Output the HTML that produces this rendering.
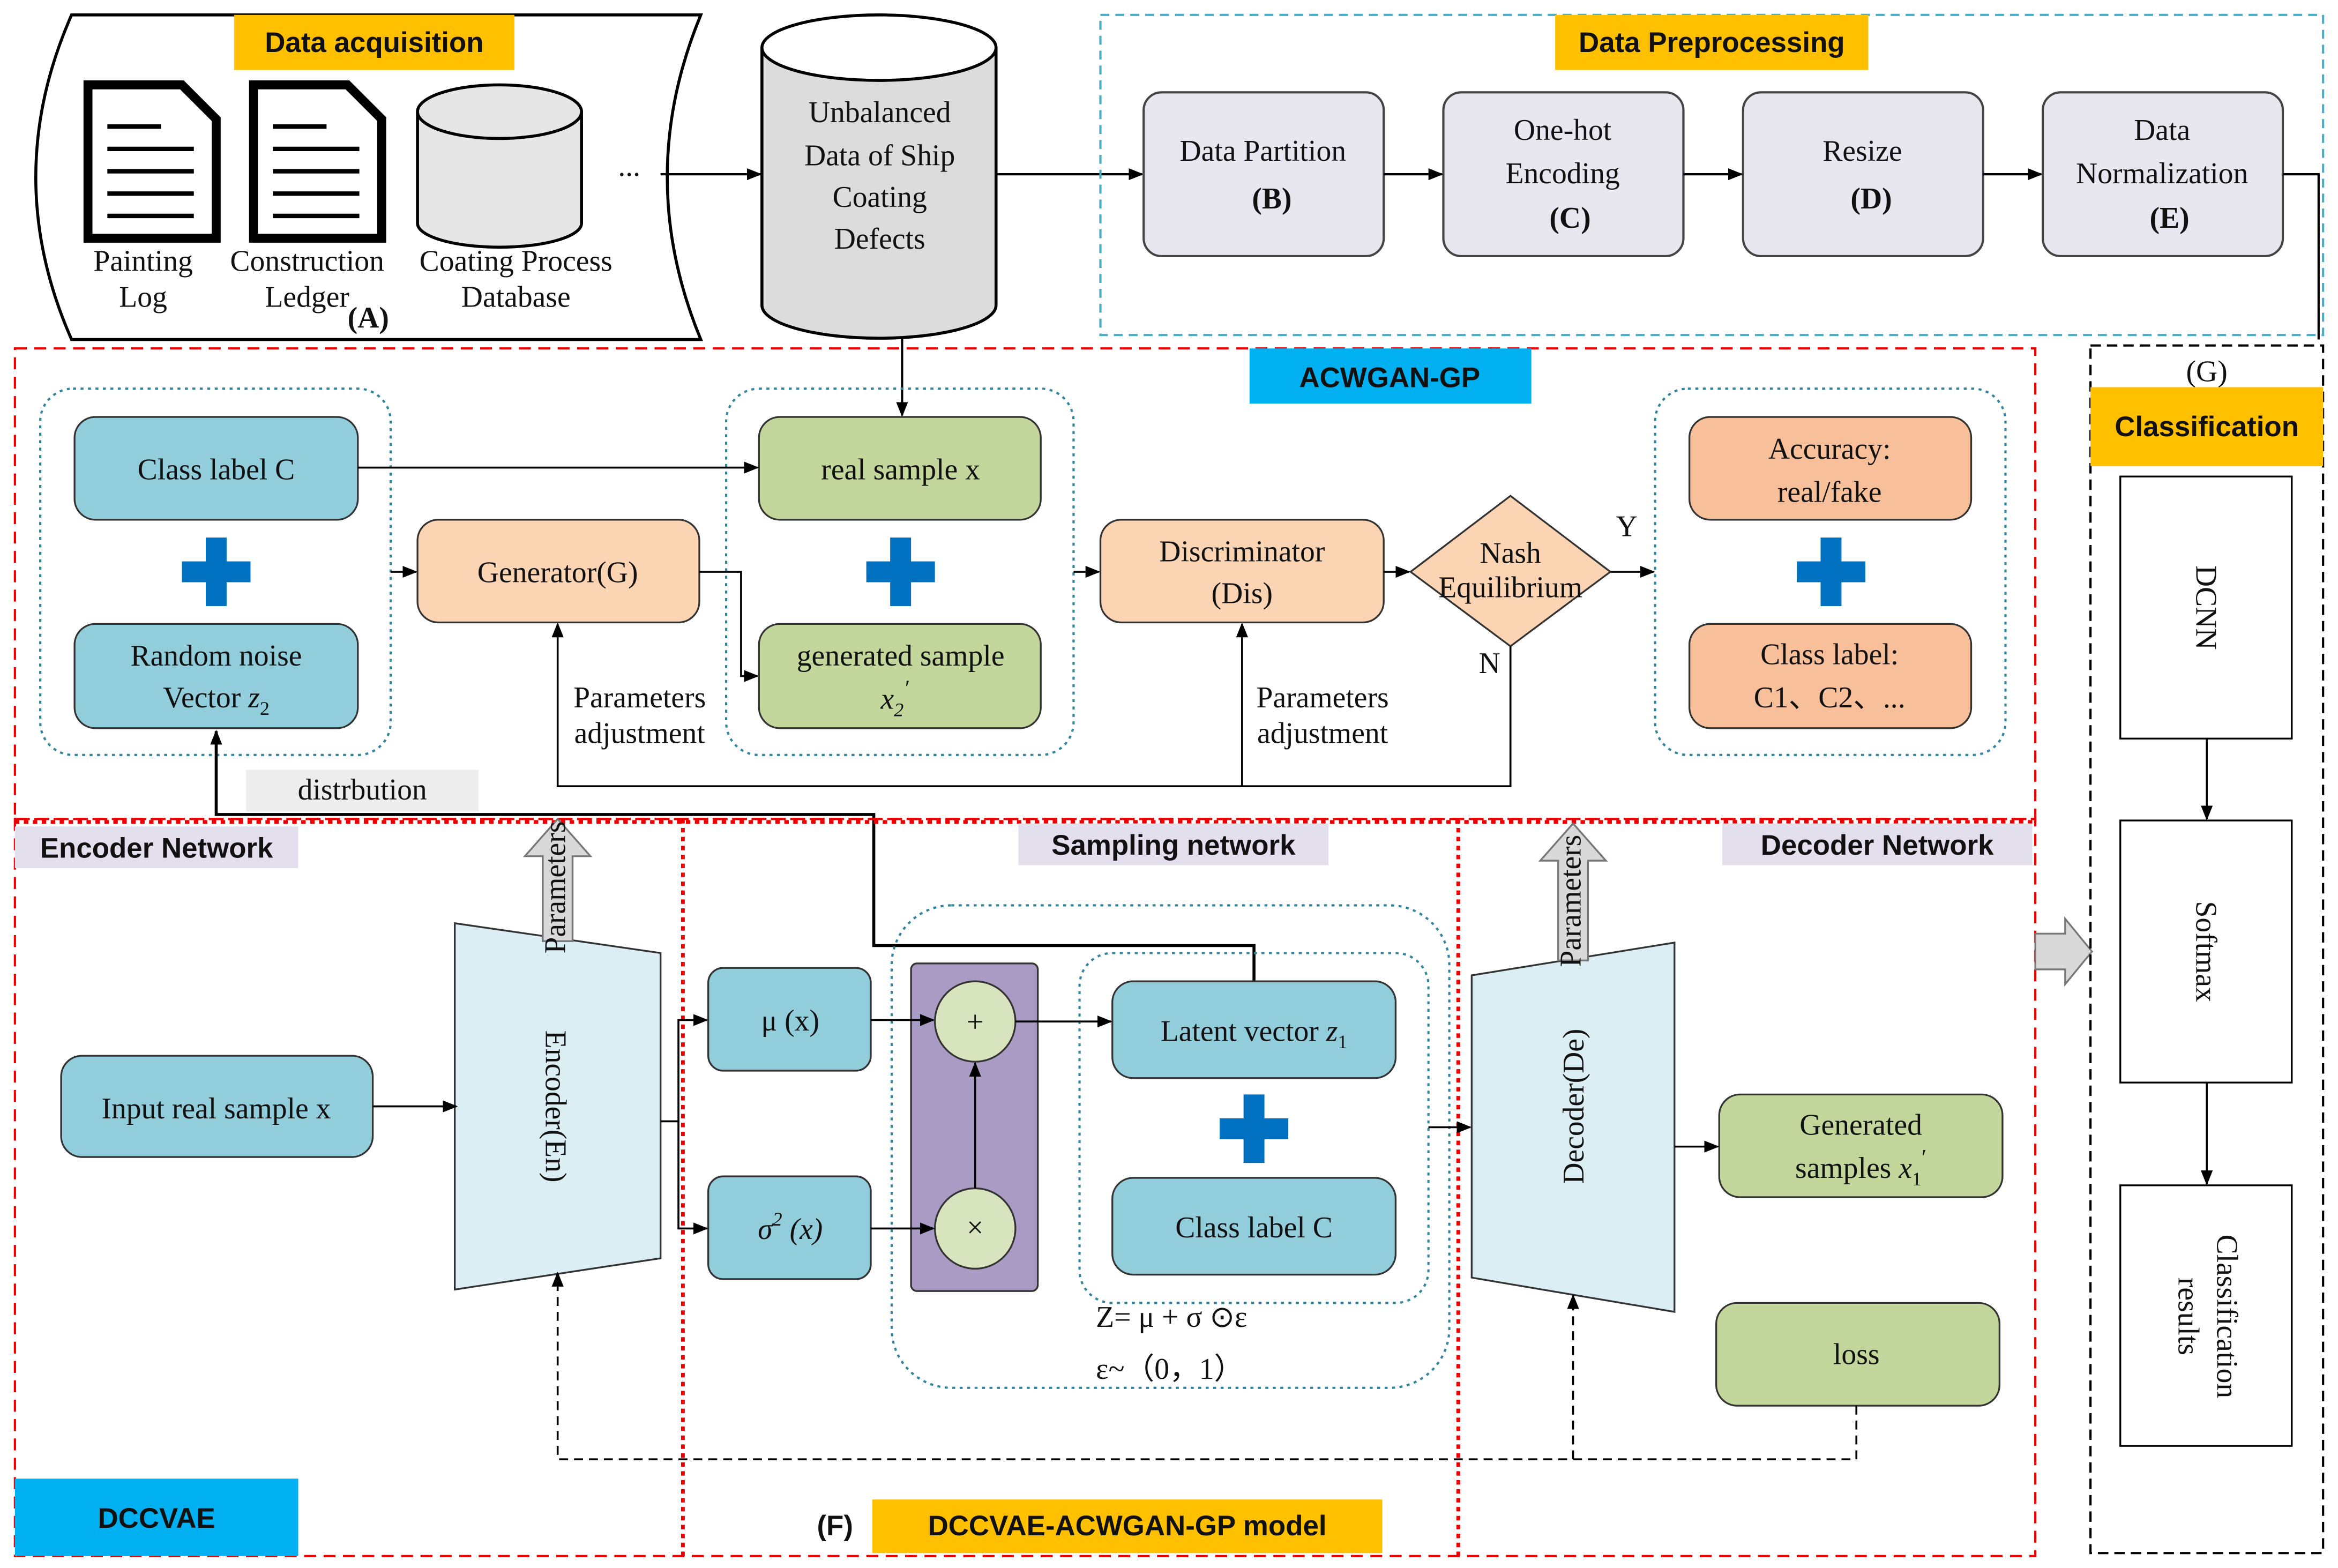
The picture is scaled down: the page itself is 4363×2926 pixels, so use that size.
<!DOCTYPE html>
<html><head><meta charset="utf-8">
<style>
html,body{margin:0;padding:0;background:#fff;}
svg{display:block;}
text{font-family:"Liberation Serif",serif;font-size:20px;fill:#111;}
.b{font-family:"Liberation Sans",sans-serif;font-weight:bold;font-size:19px;}
</style></head><body>
<svg width="4363" height="2926" viewBox="0 0 1568 1053" preserveAspectRatio="none" xmlns="http://www.w3.org/2000/svg">
<defs>
<marker id="a" markerWidth="10" markerHeight="10" refX="9" refY="5" orient="auto" markerUnits="userSpaceOnUse"><path d="M0,1 L10,5 L0,9z" fill="#000"/></marker>
</defs>
<rect width="1568" height="1053" fill="#fff"/>

<!-- Data acquisition -->
<path d="M48,10 L470,10 Q425,119 470,228 L48,228 Q0,119 48,10z" fill="#fff" stroke="#000" stroke-width="2"/>
<rect x="157" y="10" width="188" height="37" fill="#FFC000"/>
<text class="b" x="251" y="35" text-anchor="middle">Data acquisition</text>
<g stroke="#000" stroke-width="6" fill="#fff">
<path d="M59,57 L122,57 L145,80 L145,160 L59,160z"/>
<path d="M170,57 L233,57 L256,80 L256,160 L170,160z"/>
</g>
<g stroke="#000" stroke-width="3">
<line x1="72" y1="85" x2="108" y2="85"/><line x1="72" y1="100" x2="130" y2="100"/><line x1="72" y1="115" x2="130" y2="115"/><line x1="72" y1="130" x2="130" y2="130"/><line x1="72" y1="145" x2="130" y2="145"/>
<line x1="183" y1="85" x2="219" y2="85"/><line x1="183" y1="100" x2="241" y2="100"/><line x1="183" y1="115" x2="241" y2="115"/><line x1="183" y1="130" x2="241" y2="130"/><line x1="183" y1="145" x2="241" y2="145"/>
</g>
<path d="M280,75 L280,150 A55,16 0 0 0 390,150 L390,75" fill="#E6E6E6" stroke="#000" stroke-width="2"/>
<ellipse cx="335" cy="75" rx="55" ry="18" fill="#E6E6E6" stroke="#000" stroke-width="2"/>
<text x="422" y="118" text-anchor="middle">...</text>
<text x="96" y="182" text-anchor="middle" font-size="17">Painting</text>
<text x="96" y="206" text-anchor="middle" font-size="17">Log</text>
<text x="206" y="182" text-anchor="middle" font-size="17">Construction</text>
<text x="206" y="206" text-anchor="middle" font-size="17">Ledger</text>
<text x="247" y="220" text-anchor="middle" font-weight="bold">(A)</text>
<text x="346" y="182" text-anchor="middle" font-size="17">Coating Process</text>
<text x="346" y="206" text-anchor="middle" font-size="17">Database</text>
<line x1="443" y1="117" x2="510" y2="117" stroke="#000" stroke-width="1.5" marker-end="url(#a)"/>

<!-- big cylinder -->
<path d="M511,32 L511,205 A78,22 0 0 0 668,205 L668,32" fill="#DCDCDC" stroke="#000" stroke-width="2"/>
<ellipse cx="589.5" cy="32" rx="78.5" ry="22" fill="#fff" stroke="#000" stroke-width="2"/>
<text x="590" y="82" text-anchor="middle" font-size="21">Unbalanced</text>
<text x="590" y="111" text-anchor="middle" font-size="21">Data of Ship</text>
<text x="590" y="139" text-anchor="middle" font-size="21">Coating</text>
<text x="590" y="167" text-anchor="middle" font-size="21">Defects</text>
<line x1="668" y1="117" x2="766" y2="117" stroke="#000" stroke-width="1.5" marker-end="url(#a)"/>

<!-- Preprocessing -->
<rect x="738" y="10" width="820" height="215" fill="none" stroke="#4BACC6" stroke-width="1.5" stroke-dasharray="6,4"/>
<rect x="1043" y="10" width="210" height="37" fill="#FFC000"/>
<text class="b" x="1148" y="35" text-anchor="middle">Data Preprocessing</text>
<g fill="#E8E6EE" stroke="#444" stroke-width="1.5">
<rect x="767" y="62" width="161" height="110" rx="12"/>
<rect x="968" y="62" width="161" height="110" rx="12"/>
<rect x="1169" y="62" width="161" height="110" rx="12"/>
<rect x="1370" y="62" width="161" height="110" rx="12"/>
</g>
<text x="847" y="108" text-anchor="middle" font-size="21">Data Partition</text>
<text x="853" y="140" text-anchor="middle" font-size="21" font-weight="bold">(B)</text>
<text x="1048" y="94" text-anchor="middle" font-size="21">One-hot</text>
<text x="1048" y="123" text-anchor="middle" font-size="21">Encoding</text>
<text x="1053" y="153" text-anchor="middle" font-size="21" font-weight="bold">(C)</text>
<text x="1249" y="108" text-anchor="middle" font-size="21">Resize</text>
<text x="1255" y="140" text-anchor="middle" font-size="21" font-weight="bold">(D)</text>
<text x="1450" y="94" text-anchor="middle" font-size="21">Data</text>
<text x="1450" y="123" text-anchor="middle" font-size="21">Normalization</text>
<text x="1455" y="153" text-anchor="middle" font-size="21" font-weight="bold">(E)</text>
<g stroke="#000" stroke-width="1.5">
<line x1="928" y1="117" x2="967" y2="117" marker-end="url(#a)"/>
<line x1="1129" y1="117" x2="1168" y2="117" marker-end="url(#a)"/>
<line x1="1330" y1="117" x2="1369" y2="117" marker-end="url(#a)"/>
<polyline points="1531,117 1555,117 1555,228" fill="none"/>
<line x1="605" y1="226" x2="605" y2="279" marker-end="url(#a)"/>
</g>

<!-- ACWGAN-GP -->
<rect x="10" y="234" width="1355" height="316" fill="none" stroke="#E00" stroke-width="1.5" stroke-dasharray="8,5"/>
<rect x="838" y="234" width="189" height="37" fill="#00B0F0"/>
<text class="b" x="932" y="260" text-anchor="middle">ACWGAN-GP</text>
<g fill="none" stroke="#31859C" stroke-width="1.5" stroke-dasharray="2,3">
<rect x="27" y="261" width="235" height="246" rx="22"/>
<rect x="487" y="261" width="233" height="246" rx="22"/>
<rect x="1110" y="261" width="235" height="246" rx="22"/>
</g>
<g stroke="#333" stroke-width="1.2">
<rect x="50" y="280" width="190" height="69" rx="14" fill="#92CDDC"/>
<rect x="50" y="419" width="190" height="70" rx="14" fill="#92CDDC"/>
<rect x="280" y="349" width="189" height="69" rx="14" fill="#FBD4B4"/>
<rect x="509" y="280" width="189" height="69" rx="14" fill="#C3D69B"/>
<rect x="509" y="419" width="189" height="70" rx="14" fill="#C3D69B"/>
<rect x="738" y="349" width="190" height="69" rx="14" fill="#FBD4B4"/>
<polygon points="1013,333 1080,384 1013,434 946,384" fill="#FBD4B4"/>
<rect x="1133" y="280" width="189" height="69" rx="14" fill="#F8C09A"/>
<rect x="1133" y="419" width="189" height="70" rx="14" fill="#F8C09A"/>
</g>
<g fill="#0070C0">
<rect x="122" y="377" width="46" height="14"/><rect x="138" y="361" width="14" height="46"/>
<rect x="581" y="377" width="46" height="14"/><rect x="597" y="361" width="14" height="46"/>
<rect x="1205" y="377" width="46" height="14"/><rect x="1221" y="361" width="14" height="46"/>
<rect x="818" y="751" width="46" height="14"/><rect x="834" y="735" width="14" height="46"/>
</g>
<text x="145" y="322" text-anchor="middle" font-size="21">Class label C</text>
<text x="145" y="447" text-anchor="middle" font-size="21">Random noise</text>
<text x="145" y="475" text-anchor="middle" font-size="21">Vector <tspan font-style="italic">z</tspan><tspan font-size="13" dy="5">2</tspan></text>
<text x="374" y="391" text-anchor="middle" font-size="21">Generator(G)</text>
<text x="604" y="322" text-anchor="middle" font-size="21">real sample x</text>
<text x="604" y="447" text-anchor="middle" font-size="21">generated sample</text>
<text x="600" y="476" text-anchor="middle" font-size="21" font-style="italic">x<tspan font-size="13" dy="5">2</tspan><tspan dy="-14" font-size="15">′</tspan></text>
<text x="833" y="377" text-anchor="middle" font-size="21">Discriminator</text>
<text x="833" y="405" text-anchor="middle" font-size="21">(Dis)</text>
<text x="1013" y="378" text-anchor="middle" font-size="17">Nash</text>
<text x="1013" y="401" text-anchor="middle" font-size="17">Equilibrium</text>
<text x="1227" y="308" text-anchor="middle" font-size="21">Accuracy:</text>
<text x="1227" y="337" text-anchor="middle" font-size="21">real/fake</text>
<text x="1227" y="446" text-anchor="middle" font-size="21">Class label:</text>
<text x="1227" y="475" text-anchor="middle" font-size="21">C1、C2、...</text>
<text x="1091" y="360" text-anchor="middle" font-size="20">Y</text>
<text x="999" y="452" text-anchor="middle" font-size="20">N</text>
<text x="429" y="475" text-anchor="middle" font-size="17">Parameters</text>
<text x="429" y="499" text-anchor="middle" font-size="17">adjustment</text>
<text x="887" y="475" text-anchor="middle" font-size="17">Parameters</text>
<text x="887" y="499" text-anchor="middle" font-size="17">adjustment</text>
<rect x="165" y="517" width="156" height="28" fill="#EDEDED"/>
<text x="243" y="537" text-anchor="middle" font-size="18">distrbution</text>
<g stroke="#000" stroke-width="1.3" fill="none">
<line x1="240" y1="314" x2="508" y2="314" marker-end="url(#a)"/>
<line x1="262" y1="384" x2="279" y2="384" marker-end="url(#a)"/>
<polyline points="469,384 497,384 497,454 508,454" marker-end="url(#a)"/>
<line x1="720" y1="384" x2="737" y2="384" marker-end="url(#a)"/>
<line x1="928" y1="384" x2="945" y2="384" marker-end="url(#a)"/>
<line x1="1080" y1="384" x2="1109" y2="384" marker-end="url(#a)"/>
<polyline points="1013,434 1013,528 374,528 374,419" marker-end="url(#a)"/>
<line x1="833" y1="528" x2="833" y2="419" marker-end="url(#a)"/>
<polyline points="841,659 841,635 586,635 586,547 145,547 145,491" stroke-width="2" marker-end="url(#a)"/>
</g>

<!-- lower -->
<rect x="10" y="550" width="1355" height="495" fill="none" stroke="#E00" stroke-width="1.5" stroke-dasharray="8,5"/>
<line x1="458" y1="550" x2="458" y2="1045" stroke="#E00" stroke-width="2.5" stroke-dasharray="3,3"/>
<line x1="978" y1="550" x2="978" y2="1045" stroke="#E00" stroke-width="2.5" stroke-dasharray="3,3"/>
<line x1="10" y1="552" x2="1365" y2="552" stroke="#E00" stroke-width="2.5" stroke-dasharray="3,3"/>
<rect x="10" y="555" width="190" height="28" fill="#E4DFEC"/>
<text class="b" x="105" y="576" text-anchor="middle">Encoder Network</text>
<rect x="683" y="553" width="208" height="28" fill="#E4DFEC"/>
<text class="b" x="787" y="574" text-anchor="middle">Sampling network</text>
<rect x="1155" y="553" width="208" height="28" fill="#E4DFEC"/>
<text class="b" x="1259" y="574" text-anchor="middle">Decoder Network</text>

<polygon points="305,620 443,640 443,845 305,866" fill="#DAEEF3" stroke="#333" stroke-width="1.2"/>
<text transform="translate(366,743) rotate(90)" text-anchor="middle" font-size="22">Encoder(En)</text>
<polygon points="987,655 1123,633 1123,881 987,858" fill="#DAEEF3" stroke="#333" stroke-width="1.2"/>
<text transform="translate(1062,743) rotate(-90)" text-anchor="middle" font-size="22">Decoder(De)</text>

<polygon points="364,632 364,575 352,575 374,550 396,575 384,575 384,632" fill="#D9D9D9" stroke="#777" stroke-width="1.2"/>
<text transform="translate(379,596) rotate(-90)" text-anchor="middle" font-size="14">Parameters</text>
<polygon points="1045,645 1045,578 1033,578 1055,553 1077,578 1065,578 1065,645" fill="#D9D9D9" stroke="#777" stroke-width="1.2"/>
<text transform="translate(1060,605) rotate(-90)" text-anchor="middle" font-size="14">Parameters</text>

<g stroke="#333" stroke-width="1.2">
<rect x="41" y="709" width="209" height="68" rx="14" fill="#92CDDC"/>
<rect x="475" y="650" width="109" height="69" rx="10" fill="#92CDDC"/>
<rect x="475" y="790" width="109" height="69" rx="10" fill="#92CDDC"/>
<rect x="746" y="659" width="190" height="65" rx="14" fill="#92CDDC"/>
<rect x="746" y="791" width="190" height="65" rx="14" fill="#92CDDC"/>
<rect x="1153" y="735" width="190" height="69" rx="14" fill="#C3D69B"/>
<rect x="1151" y="875" width="190" height="69" rx="14" fill="#C3D69B"/>
</g>
<rect x="598" y="608" width="374" height="324" rx="40" fill="none" stroke="#31859C" stroke-width="1.5" stroke-dasharray="2,3"/>
<rect x="724" y="640" width="234" height="235" rx="22" fill="none" stroke="#31859C" stroke-width="1.5" stroke-dasharray="2,3"/>
<rect x="611" y="647" width="85" height="220" rx="4" fill="#A99BC4" stroke="#333" stroke-width="1.2"/>
<circle cx="654" cy="686" r="27" fill="#D7E4BD" stroke="#333" stroke-width="1.2"/>
<circle cx="654" cy="825" r="27" fill="#D7E4BD" stroke="#333" stroke-width="1.2"/>
<text x="654" y="693" text-anchor="middle" font-size="20">+</text>
<text x="654" y="831" text-anchor="middle" font-size="18">×</text>

<text x="145" y="751" text-anchor="middle" font-size="21">Input real sample x</text>
<text x="530" y="692" text-anchor="middle" font-size="21">μ (x)</text>
<text x="530" y="832" text-anchor="middle" font-size="21" font-style="italic">σ<tspan font-size="13" dy="-9">2</tspan><tspan dy="9"> (x)</tspan></text>
<text x="841" y="699" text-anchor="middle" font-size="21">Latent vector <tspan font-style="italic">z</tspan><tspan font-size="13" dy="5">1</tspan></text>
<text x="841" y="831" text-anchor="middle" font-size="21">Class label C</text>
<text x="1248" y="762" text-anchor="middle" font-size="21">Generated</text>
<text x="1248" y="791" text-anchor="middle" font-size="21">samples  <tspan font-style="italic">x</tspan><tspan font-size="13" dy="5">1</tspan><tspan dy="-14" font-size="15">′</tspan></text>
<text x="1245" y="916" text-anchor="middle" font-size="21">loss</text>
<text x="735" y="891" font-size="20">Z= μ + σ ⊙ε</text>
<text x="735" y="926" font-size="20">ε~（0，1）</text>

<g stroke="#000" stroke-width="1.3" fill="none">
<line x1="250" y1="743" x2="306" y2="743" marker-end="url(#a)"/>
<polyline points="443,753 455,753 455,685 474,685" marker-end="url(#a)"/>
<polyline points="455,753 455,825 474,825" marker-end="url(#a)"/>
<line x1="584" y1="685" x2="626" y2="685" marker-end="url(#a)"/>
<line x1="584" y1="825" x2="626" y2="825" marker-end="url(#a)"/>
<line x1="654" y1="798" x2="654" y2="714" marker-end="url(#a)"/>
<line x1="681" y1="686" x2="745" y2="686" marker-end="url(#a)"/>
<line x1="958" y1="757" x2="986" y2="757" marker-end="url(#a)"/>
<line x1="1123" y1="770" x2="1152" y2="770" marker-end="url(#a)"/>
<polyline points="1245,944 1245,980 374,980 374,855" stroke-dasharray="6,4" marker-end="url(#a)"/>
<line x1="1055" y1="980" x2="1055" y2="870" stroke-dasharray="6,4" marker-end="url(#a)"/>
</g>
<rect x="10" y="993" width="190" height="52" fill="#00B0F0"/>
<text class="b" x="105" y="1026" text-anchor="middle">DCCVAE</text>
<text class="b" x="560" y="1031" text-anchor="middle">(F)</text>
<rect x="585" y="1007" width="342" height="36" fill="#FFC000"/>
<text class="b" x="756" y="1031" text-anchor="middle">DCCVAE-ACWGAN-GP model</text>

<!-- classification -->
<polygon points="1365,627 1385,627 1385,617 1403,639 1385,661 1385,651 1365,651" fill="#D9D9D9" stroke="#777" stroke-width="1.2"/>
<rect x="1402" y="232" width="156" height="811" fill="none" stroke="#000" stroke-width="1.5" stroke-dasharray="7,4"/>
<text x="1480" y="256" text-anchor="middle" font-size="20">(G)</text>
<rect x="1402" y="260" width="156" height="53" fill="#FFC000"/>
<text class="b" x="1480" y="293" text-anchor="middle">Classification</text>
<g fill="#fff" stroke="#000" stroke-width="1.2">
<rect x="1422" y="320" width="115" height="176"/>
<rect x="1422" y="551" width="115" height="176"/>
<rect x="1422" y="796" width="115" height="175"/>
</g>
<text transform="translate(1473,408) rotate(90)" text-anchor="middle" font-size="22">DCNN</text>
<text transform="translate(1473,639) rotate(90)" text-anchor="middle" font-size="22">Softmax</text>
<text transform="translate(1487,884) rotate(90)" text-anchor="middle" font-size="22">Classification</text>
<text transform="translate(1461,884) rotate(90)" text-anchor="middle" font-size="22">results</text>
<g stroke="#000" stroke-width="1.3">
<line x1="1480" y1="496" x2="1480" y2="550" marker-end="url(#a)"/>
<line x1="1480" y1="727" x2="1480" y2="795" marker-end="url(#a)"/>
</g>
</svg>
</body></html>
